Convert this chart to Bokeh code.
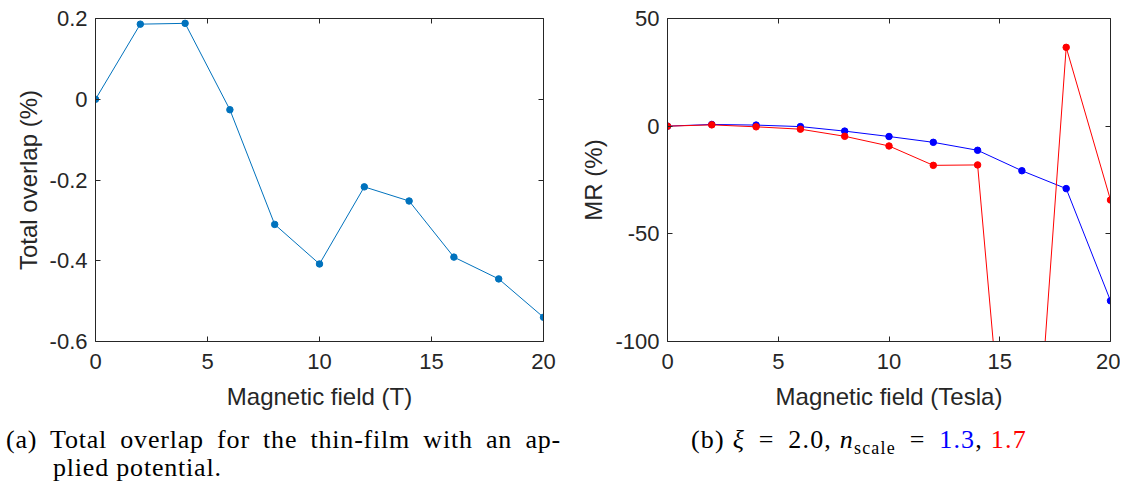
from bokeh.plotting import figure
from bokeh.models import Range1d, LinearAxis, FixedTicker, NumeralTickFormatter, Div
from bokeh.layouts import column, row
from bokeh.embed import file_html
from bokeh.resources import INLINE

# ---------------- data ----------------
field_T = [0, 2, 4, 6, 8, 10, 12, 14, 16, 18, 20]
total_overlap = [0.0, 0.186, 0.188, -0.026, -0.310, -0.408, -0.217, -0.252, -0.391, -0.445, -0.540]
mr_nscale_13 = [0.0, 0.8, 0.5, -0.2, -2.3, -4.8, -7.5, -11.2, -20.7, -29.0, -81.1]
mr_nscale_17 = [0.0, 0.6, -0.3, -1.4, -4.7, -9.2, -18.2, -18.0, -251.0, 36.6, -34.3]

x_ticks = [0, 5, 10, 15, 20]
overlap_ticks = [-0.6, -0.4, -0.2, 0, 0.2]
mr_ticks = [-100, -50, 0, 50]

xlabel_a = "Magnetic field (T)"
ylabel_a = "Total overlap (%)"
xlabel_b = "Magnetic field (Tesla)"
ylabel_b = "MR (%)"

caption_a_line1 = "(a) Total overlap for the thin-film with an ap-"
caption_a_line2 = "plied potential."
caption_b_prefix = "(b)"
caption_b_xi = "2.0"
caption_b_n1 = "1.3"
caption_b_n2 = "1.7"

AX = "#262626"
TICK_FONT = "Liberation Sans"


def style(p, xticks, yticks, yformat):
    p.xgrid.visible = False
    p.ygrid.visible = False
    p.outline_line_color = None
    p.background_fill_color = "white"
    p.border_fill_color = "white"
    for ax in p.xaxis + p.yaxis:
        ax.axis_line_color = AX
        ax.axis_line_width = 1
        ax.major_tick_in = 5
        ax.major_tick_out = 0
        ax.major_tick_line_color = AX
        ax.minor_tick_line_color = None
        ax.major_label_text_font = TICK_FONT
        ax.major_label_text_font_size = "22px"
        ax.major_label_text_color = AX
        ax.axis_label_text_font = TICK_FONT
        ax.axis_label_text_font_size = "24px"
        ax.axis_label_text_font_style = "normal"
        ax.axis_label_text_color = AX
    p.xaxis.ticker = FixedTicker(ticks=xticks)
    p.yaxis.ticker = FixedTicker(ticks=yticks)
    p.yaxis.formatter = NumeralTickFormatter(format=yformat)
    p.xaxis.major_label_standoff = 12
    p.yaxis.major_label_standoff = 8
    p.xaxis.axis_label_standoff = 11
    p.yaxis.axis_label_standoff = 5
    # box axes (top / right) carrying inward ticks only, no labels
    for loc, tk in (("above", xticks), ("right", yticks)):
        a = LinearAxis(ticker=FixedTicker(ticks=tk),
                       axis_line_color=AX, major_tick_in=5, major_tick_out=0,
                       major_tick_line_color=AX, minor_tick_line_color=None,
                       major_label_text_color=None, major_label_text_font_size="1px",
                       major_label_standoff=0)
        p.add_layout(a, loc)


# ---------------- panel (a) ----------------
p1 = figure(width=568, height=416, x_range=Range1d(0, 20), y_range=Range1d(-0.6, 0.2),
            output_backend="svg", toolbar_location=None,
            min_border_left=95, min_border_right=25, min_border_top=18, min_border_bottom=75,
            x_axis_label=xlabel_a, y_axis_label=ylabel_a)
style(p1, x_ticks, overlap_ticks, "0.[0]")
p1.line(field_T, total_overlap, line_color="#0072BD", line_width=1)
p1.scatter(field_T, total_overlap, size=6.5, color="#0072BD")

# ---------------- panel (b) ----------------
p2 = figure(width=552, height=416, x_range=Range1d(0, 20), y_range=Range1d(-100, 50),
            output_backend="svg", toolbar_location=None,
            min_border_left=99, min_border_right=10, min_border_top=18, min_border_bottom=75,
            x_axis_label=xlabel_b, y_axis_label=ylabel_b)
style(p2, x_ticks, mr_ticks, "0")
p2.line(field_T, mr_nscale_13, line_color="#0000FF", line_width=1)
p2.scatter(field_T, mr_nscale_13, size=6.5, color="#0000FF")
p2.line(field_T, mr_nscale_17, line_color="#FF0000", line_width=1)
p2.scatter(field_T, mr_nscale_17, size=6.5, color="#FF0000")

# ---------------- captions ----------------
serif = "'Liberation Serif', serif"
eq = '<span style="margin:0 6px">=</span>'
html = f"""
<div style="position:relative;width:1120px;height:72px;font-family:{serif};font-size:26px;line-height:1;letter-spacing:0.8px;color:#000;">
  <div style="position:absolute;left:6px;top:11px;width:555px;text-align:justify;text-align-last:justify;">{caption_a_line1}</div>
  <div style="position:absolute;left:53px;top:39px;">{caption_a_line2}</div>
  <div style="position:absolute;left:691px;top:11px;white-space:nowrap;letter-spacing:1.2px;">{caption_b_prefix} <i>&xi;</i> {eq} {caption_b_xi}, <i>n</i><sub style="font-size:18px;vertical-align:-6px;line-height:0">scale</sub> {eq} <span style="color:#0000FF">{caption_b_n1}</span>, <span style="color:#FF0000">{caption_b_n2}</span></div>
</div>
"""
captions = Div(text=html, width=1120, height=72, margin=(0, 0, 0, 0))

layout = column(row(p1, p2, spacing=0), captions, spacing=0)

with open("out.html", "w") as f:
    f.write(file_html(layout, INLINE))
